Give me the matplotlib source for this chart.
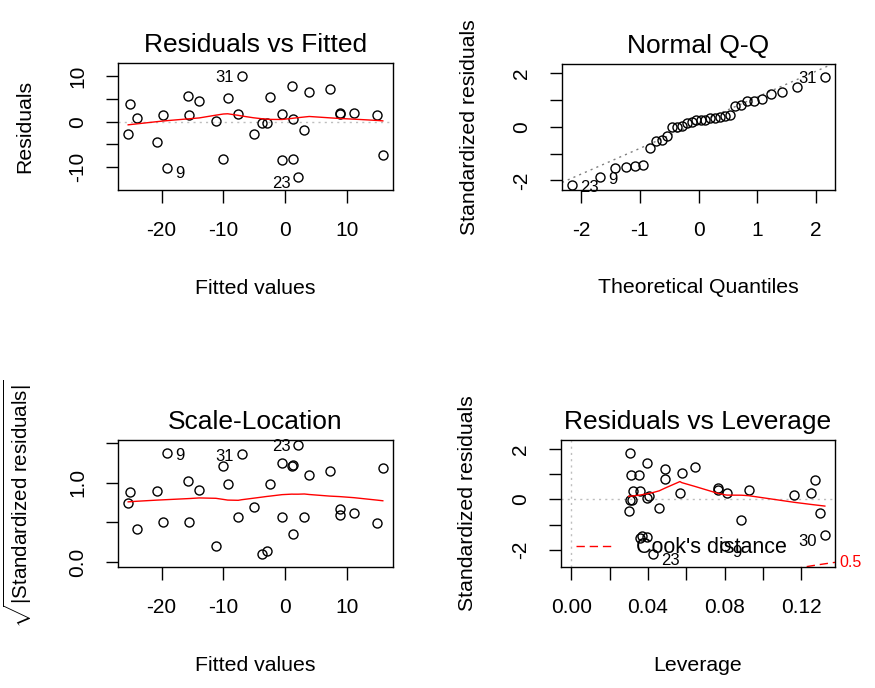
import numpy as np
import matplotlib
matplotlib.use('Agg')
import matplotlib.pyplot as plt
from statistics import NormalDist

fitted = [-25.1, -24.0, -25.4, -20.8, -19.7, -15.8, -15.5, -13.9, -19.1, -11.2,
          -10.0, -9.3, -7.6, -5.1, -3.8, -3.0, -2.4, -0.5, -0.5, 1.1,
          1.3, 1.2, 2.1, 3.1, 3.9, 7.2, 8.8, 8.8, 11.1, 15.8,
          -7.0, 14.9]
residuals = [3.8, 0.9, -2.7, -4.5, 1.4, 5.6, 1.4, 4.6, -10.1, 0.2,
             -8.3, 5.3, 1.7, -2.7, -0.2, -0.2, 5.4, 1.7, -8.5, 7.9,
             0.7, -8.3, -12.2, -1.9, 6.5, 7.2, 1.7, 2.0, 2.0, -7.4,
             10.1, 1.4]
std_resid = [0.78, 0.17, -0.55, -0.81, 0.26, 1.04, 0.26, 0.82, -1.87, 0.04,
             -1.45, 0.97, 0.32, -0.48, -0.01, -0.02, 0.97, 0.32, -1.55, 1.46,
             0.13, -1.49, -2.18, -0.33, 1.20, 1.30, 0.36, 0.45, 0.39, -1.41,
             1.85, 0.24]
leverage = [0.127, 0.116, 0.1296, 0.0887, 0.0812, 0.0576, 0.0567, 0.0489, 0.080, 0.0393,
            0.0370, 0.0353, 0.0320, 0.0300, 0.0309, 0.0318, 0.0314, 0.0358, 0.0360, 0.0393,
            0.0407, 0.0395, 0.0428, 0.0459, 0.0489, 0.0646, 0.0763, 0.0763, 0.0925, 0.1322,
            0.0309, 0.1252]
n_coef = 2
cook_levels = [0.5]

fit_ticks = [-20, -10, 0, 10]
res_ticks = [-10, -5, 0, 5, 10]
res_labels = ['-10', '', '0', '', '10']
qq_xticks = [-2, -1, 0, 1, 2]
std_ticks = [-2, -1, 0, 1, 2]
std_labels = ['-2', '', '0', '', '2']
sl_ticks = [0.0, 0.5, 1.0, 1.5]
sl_labels = ['0.0', '', '1.0', '']
lev_ticks = [0.00, 0.02, 0.04, 0.06, 0.08, 0.10, 0.12]
lev_labels = ['0.00', '', '0.04', '', '0.08', '', '0.12']

plt.rcParams['font.family'] = ['Liberation Sans', 'DejaVu Sans']
plt.rcParams['mathtext.fontset'] = 'custom'
plt.rcParams['mathtext.rm'] = 'Liberation Sans'
plt.rcParams['mathtext.it'] = 'Liberation Sans:italic'

fitted = np.array(fitted)
residuals = np.array(residuals)
std_resid = np.array(std_resid)
leverage = np.array(leverage)
obs = np.arange(1, len(fitted) + 1)


def lowess(x, y, f=2 / 3, iters=3):
    # same algorithm as R's lowess(), used by panel.smooth
    x = np.asarray(x, float)
    y = np.asarray(y, float)
    o = np.argsort(x, kind='mergesort')
    x, y = x[o], y[o]
    n = len(x)
    ns = max(min(int(f * n + 1e-7), n), 2)
    rw = np.ones(n)
    fit = np.zeros(n)
    rng = x[-1] - x[0]
    for it in range(iters + 1):
        for i in range(n):
            d = np.abs(x - x[i])
            h = np.sort(d)[ns - 1]
            if h > 0:
                r = d / h
                w = np.where(r <= 0.001, 1.0, np.where(r <= 0.999, (1 - r ** 3) ** 3, 0.0))
            else:
                w = (d == 0).astype(float)
            w = w * rw
            if w.sum() <= 0:
                fit[i] = y[i]
                continue
            w = w / w.sum()
            if h > 0:
                b = np.sum(w * x)
                c = np.sum(w * (x - b) ** 2)
                if np.sqrt(c) > 0.001 * rng:
                    w = w * ((x[i] - b) / c * (x - b) + 1.0)
            fit[i] = np.sum(w * y)
        if it == iters:
            break
        res = y - fit
        cmad = 6 * np.median(np.abs(res))
        if cmad < 1e-7 * np.mean(np.abs(y)):
            break
        u = np.abs(res / cmad)
        rw = np.where(u < 1, (1 - u ** 2) ** 2, 0.0)
    return x, fit


def extend(lo, hi, f):
    d = hi - lo
    return lo - f * d, hi + f * d


def style(ax, xt, xl, yt, yl, xlab, ylab, title):
    ax.set_xticks(xt)
    ax.set_xticklabels(xl)
    ax.set_yticks(yt)
    ax.set_yticklabels(yl, rotation=90, va='center')
    ax.tick_params(direction='out', length=9, width=1, labelsize=15, pad=13)
    for s in ax.spines.values():
        s.set_linewidth(1)
    ax.set_xlabel(xlab, fontsize=15.3)
    ax.set_ylabel(ylab, fontsize=15.3)
    ax.xaxis.set_label_coords(0.5, -0.70)
    ax.yaxis.set_label_coords(-0.305, 0.5)
    ax.set_title(title, fontsize=19, pad=8)


def pts(ax, x, y):
    ax.plot(x, y, 'o', ms=6.5, mfc='none', mec='black', mew=1.0, zorder=3)


def smooth(ax, x, y):
    sx, sy = lowess(x, y)
    ax.plot(sx, sy, color='red', lw=1, zorder=4)


def label_ids(ax, x, y, ids, shift_neg=True):
    mid = (np.min(x) + np.max(x)) / 2
    for xi, yi, k in zip(x, y, ids):
        right = xi <= mid
        dy = -1.5 - (3 if (shift_neg and yi < 0) else 0)
        ax.annotate(str(k), (xi, yi), xytext=(5.5 if right else -5.5, dy),
                    textcoords='offset points', ha='left' if right else 'right',
                    va='center', fontsize=12, zorder=5, annotation_clip=False)


fig = plt.figure(figsize=(8.75, 6.88), dpi=100)
W, H = 875, 688


def box(l, r, t, b):
    return fig.add_axes([l / W, 1 - b / H, (r - l) / W, (b - t) / H])


ax1 = box(118, 393, 63, 190)
ax2 = box(562, 835, 64, 190)
ax3 = box(118, 393, 440, 567)
ax4 = box(561, 835, 440, 567)

# Residuals vs Fitted
pts(ax1, fitted, residuals)
smooth(ax1, fitted, residuals)
ax1.axhline(0, color='#BEBEBE', ls=(0, (1.5, 3)), lw=1, zorder=1)
ax1.set_xlim(*extend(fitted.min(), fitted.max(), 0.04))
yl = extend(*extend(residuals.min(), residuals.max(), 0.08), 0.04)
ax1.set_ylim(*yl)
show = np.argsort(-np.abs(residuals), kind='mergesort')[:3]
label_ids(ax1, fitted[show], residuals[show], obs[show])
style(ax1, fit_ticks, [str(v) for v in fit_ticks], res_ticks, res_labels,
      'Fitted values', 'Residuals', 'Residuals vs Fitted')

# Normal Q-Q
n = len(std_resid)
probs = (np.arange(1, n + 1) - 0.5) / n
theo = np.array([NormalDist().inv_cdf(p) for p in probs])
order = np.argsort(std_resid, kind='mergesort')
qx = np.empty(n)
qx[order] = theo
pts(ax2, qx, std_resid)
yq = np.quantile(std_resid, [0.25, 0.75])
xq = np.array([NormalDist().inv_cdf(0.25), NormalDist().inv_cdf(0.75)])
slope = (yq[1] - yq[0]) / (xq[1] - xq[0])
ax2.axline((0, yq[0] - slope * xq[0]), slope=slope, color='#7F7F7F',
           ls=(0, (1.5, 3)), lw=1, zorder=1)
ax2.set_xlim(*extend(qx.min(), qx.max(), 0.04))
lo, hi = std_resid.min(), std_resid.max()
ax2.set_ylim(*extend(lo, hi + (hi - lo) * 0.075, 0.04))
show_rs = np.argsort(-np.abs(std_resid), kind='mergesort')[:3]
label_ids(ax2, qx[show_rs], std_resid[show_rs], obs[show_rs], shift_neg=False)
style(ax2, qq_xticks, [str(v) for v in qq_xticks], std_ticks, std_labels,
      'Theoretical Quantiles', 'Standardized residuals', 'Normal Q-Q')

# Scale-Location
sq = np.sqrt(np.abs(std_resid))
pts(ax3, fitted, sq)
smooth(ax3, fitted, sq)
ax3.set_xlim(*extend(fitted.min(), fitted.max(), 0.04))
ax3.set_ylim(*extend(0, sq.max(), 0.04))
label_ids(ax3, fitted[show_rs], sq[show_rs], obs[show_rs], shift_neg=False)
style(ax3, fit_ticks, [str(v) for v in fit_ticks], sl_ticks, sl_labels,
      'Fitted values', r'$\sqrt{|\mathrm{Standardized\ residuals}|}$', 'Scale-Location')
ax3.yaxis.label.set_fontsize(14.8)

# Residuals vs Leverage
pts(ax4, leverage, std_resid)
smooth(ax4, leverage, std_resid)
ax4.axhline(0, color='#BEBEBE', ls=(0, (1.5, 3)), lw=1, zorder=1)
ax4.axvline(0, color='#BEBEBE', ls=(0, (1.5, 3)), lw=1, zorder=1)
xl4 = extend(0, leverage.max(), 0.04)
ax4.set_xlim(*xl4)
ax4.set_ylim(*extend(*extend(std_resid.min(), std_resid.max(), 0.08), 0.04))
hh = np.linspace(min(leverage.min(), leverage.max() / 100), xl4[1], 101)
for crit in cook_levels:
    cl = np.sqrt(crit * n_coef * (1 - hh) / hh)
    ax4.plot(hh, cl, color='red', ls=(0, (6, 3.5)), lw=1, zorder=2)
    ax4.plot(hh, -cl, color='red', ls=(0, (6, 3.5)), lw=1, zorder=2,
             label="Cook's distance" if crit == cook_levels[0] else None)
    xmax = min(0.99, xl4[1])
    aty = np.sqrt(crit) * np.sqrt(n_coef * (1 - xmax) / xmax)
    ylo, yhi = ax4.get_ylim()
    for yv in (-aty, aty):
        if ylo <= yv <= yhi:
            ax4.annotate(str(crit), (1, yv), xycoords=('axes fraction', 'data'),
                         xytext=(3, 0), textcoords='offset points', ha='left',
                         va='center', color='red', fontsize=11.5,
                         annotation_clip=False)
cook = std_resid ** 2 * leverage / (n_coef * (1 - leverage))
show_c = np.argsort(-cook, kind='mergesort')[:3]
label_ids(ax4, leverage[show_c], std_resid[show_c], obs[show_c])
ax4.legend(loc='lower left', bbox_to_anchor=(0.055, 0.07), frameon=False,
           fontsize=15.5, handlelength=1.7, handletextpad=1.1,
           borderpad=0, borderaxespad=0)
style(ax4, lev_ticks, lev_labels, std_ticks, std_labels,
      'Leverage', 'Standardized residuals', 'Residuals vs Leverage')

fig.savefig('out.png', dpi=100)
plt.close(fig)
print("Done.")
